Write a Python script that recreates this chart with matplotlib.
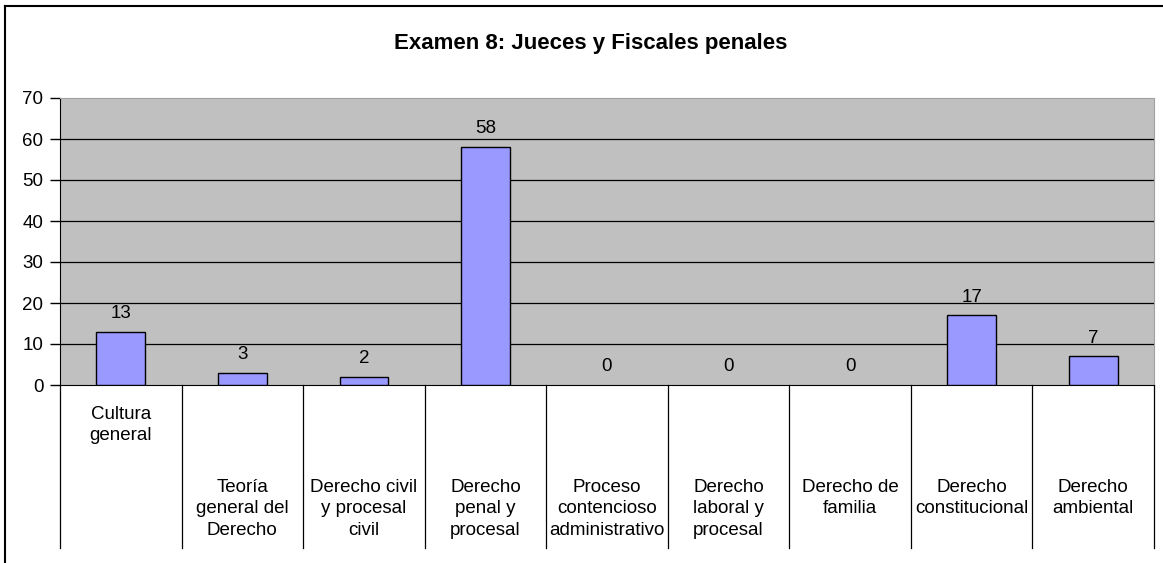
import matplotlib
matplotlib.use('Agg')
import matplotlib.pyplot as plt
from matplotlib.lines import Line2D
import numpy as np

plt.rcParams['font.family'] = ['Liberation Sans', 'DejaVu Sans']

title = 'Examen 8: Jueces y Fiscales penales'
categories = ['Cultura\ngeneral', 'Teoría\ngeneral del\nDerecho', 'Derecho civil\ny procesal\ncivil',
              'Derecho\npenal y\nprocesal', 'Proceso\ncontencioso\nadministrativo',
              'Derecho\nlaboral y\nprocesal', 'Derecho de\nfamilia', 'Derecho\nconstitucional',
              'Derecho\nambiental']
values = [13, 3, 2, 58, 0, 0, 0, 17, 7]
yticks = [0, 10, 20, 30, 40, 50, 60, 70]

W, H = 1163, 563
fig = plt.figure(figsize=(W / 100, H / 100), dpi=100)
fig.patch.set_facecolor('white')

# plot area in pixels: x 60..1154, y 98..385
ax = fig.add_axes([60 / W, 1 - 385 / H, (1154 - 60) / W, (385 - 98) / H])
ax.set_facecolor('#C0C0C0')

x = np.arange(len(values))
bars = ax.bar(x, values, width=0.4, color='#9999FF', edgecolor='black', linewidth=1, zorder=3)
for b, v in zip(bars, values):
    if v == 0:
        b.set_linewidth(0)

ax.set_xlim(-0.5, len(values) - 0.5)
ax.set_ylim(0, 70)
ax.set_yticks(yticks)
ax.tick_params(axis='y', direction='out', length=7, width=1, pad=5, labelsize=13.5)
for t in yticks[1:-1]:
    ax.axhline(t, color='black', linewidth=0.9, zorder=1)

ax.spines['left'].set_color('black')
ax.spines['bottom'].set_color('black')
ax.spines['top'].set_color('#A0A0A0')
ax.spines['right'].set_color('#A0A0A0')

ax.set_xticks([])
tr = ax.get_xaxis_transform()
for b in np.arange(len(values) + 1) - 0.5:
    ax.plot([b, b], [0, -0.568], transform=tr, color='black', linewidth=0.9, clip_on=False)

for i, lab in enumerate(categories):
    ytop = -0.072 if i == 0 else -0.328
    ax.text(i, ytop, lab, transform=tr, ha='center', va='top', fontsize=13.5,
            linespacing=1.33)

for i, v in enumerate(values):
    ax.annotate(str(v), (i, v), xytext=(0, 7), textcoords='offset points',
                ha='center', va='bottom', fontsize=13.5)

fig.text(591 / W, 1 - 43 / H, title, ha='center', va='center', fontsize=16, fontweight='bold')

# outer chart frame
fig.add_artist(Line2D([5 / W, 5 / W], [0, 1 - 6 / H], color='black', linewidth=1.5))
fig.add_artist(Line2D([5 / W, 1], [1 - 6 / H, 1 - 6 / H], color='black', linewidth=1.5))

fig.savefig('out.png', dpi=100)
